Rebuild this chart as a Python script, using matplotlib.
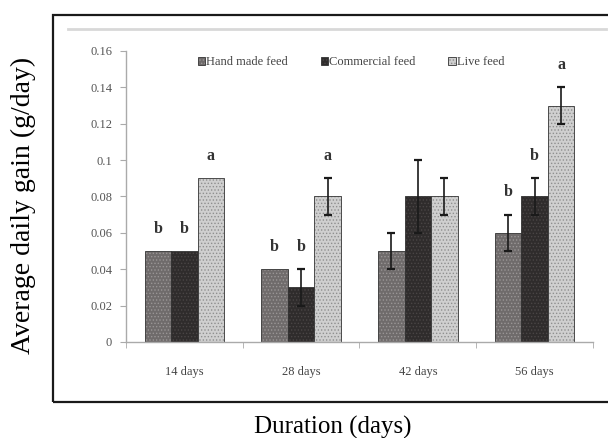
import matplotlib.pyplot as plt
import numpy as np
from matplotlib.patches import Rectangle
from matplotlib.lines import Line2D

plt.rcParams['font.family'] = ['Liberation Serif', 'DejaVu Serif']
plt.rcParams['hatch.linewidth'] = 0.6

durations = ['14 days', '28 days', '42 days', '56 days']
series = ['Hand made feed', 'Commercial feed', 'Live feed']
hand_made = [0.05, 0.04, 0.05, 0.06]
commercial = [0.05, 0.03, 0.08, 0.08]
live = [0.09, 0.08, 0.08, 0.13]
hand_err = [0.0, 0.0, 0.01, 0.01]
comm_err = [0.0, 0.01, 0.02, 0.01]
live_err = [0.0, 0.01, 0.01, 0.01]
hand_sig = ['b', 'b', '', 'b']
comm_sig = ['b', 'b', '', 'b']
live_sig = ['a', 'a', '', 'a']

values = [hand_made, commercial, live]
errors = [hand_err, comm_err, live_err]
letters = [hand_sig, comm_sig, live_sig]
faces = ['#6f6b6b', '#2f2c2c', '#cfcfcf']
hatch_cols = ['#9a9696', '#4a4646', '#8f8f8f']

fig = plt.figure(figsize=(6.08, 4.38), dpi=100)
fig.patch.set_facecolor('white')

# outer frame and light inner panel line
fig.add_artist(Rectangle((0.0872, 0.0822), 0.93, 0.8836, transform=fig.transFigure,
                         fill=False, edgecolor='#1a1a1a', linewidth=1.6))
fig.add_artist(Line2D([0.112, 0.997], [0.9338, 0.9338], transform=fig.transFigure,
                      color='#d8d8d8', linewidth=2))

ax = fig.add_axes([0.2072, 0.2192, 0.768, 0.6644])
x = np.arange(len(durations))
w = 0.227

for i in range(3):
    pos = x + (i - 1) * w
    bars = ax.bar(pos, values[i], w, color=faces[i], edgecolor='#333333',
                  linewidth=0.6, hatch='.....', label=series[i], zorder=2)
    for b in bars:
        b._hatch_color = (*plt.matplotlib.colors.to_rgb(hatch_cols[i]), 1.0)
    errs = np.array(errors[i])
    mask = errs > 0
    ax.errorbar(pos[mask], np.array(values[i])[mask], yerr=errs[mask], fmt='none',
                ecolor='#1a1a1a', elinewidth=1.2, capsize=3, capthick=1.6, zorder=3)
    for j in range(len(durations)):
        if letters[i][j]:
            ax.text(pos[j], values[i][j] + errors[i][j] + 0.008, letters[i][j],
                    ha='center', va='bottom', fontsize=11.5, fontweight='bold',
                    color='#333333')

ax.set_xlim(-0.5, 3.5)
ax.set_ylim(0, 0.16)
ax.set_yticks(np.arange(0, 0.161, 0.02))
ax.set_yticklabels(['0', '0.02', '0.04', '0.06', '0.08', '0.1', '0.12', '0.14', '0.16'])
ax.set_xticks(x)
ax.set_xticklabels(durations)
ax.set_xticks(np.arange(-0.5, 3.6, 1), minor=True)
ax.tick_params(axis='x', which='major', length=0, pad=17, labelsize=9, labelcolor='#444444')
ax.tick_params(axis='x', which='minor', length=4, color='#aaaaaa', direction='out')
ax.tick_params(axis='y', length=4, color='#aaaaaa', pad=6, labelsize=9, labelcolor='#555555')
for s in ['top', 'right']:
    ax.spines[s].set_visible(False)
for s in ['left', 'bottom']:
    ax.spines[s].set_color('#aaaaaa')
    ax.spines[s].set_linewidth(1.0)

ax.legend(loc='center', bbox_to_anchor=(0.482, 0.962), ncol=3, frameon=False,
          fontsize=9, handlelength=0.6, handleheight=0.6, handletextpad=0.1,
          columnspacing=2.6, labelcolor='#444444')

fig.text(0.039, 0.53, 'Average daily gain (g/day)', rotation=90, ha='center',
         va='center', fontsize=20)
fig.text(0.548, 0.025, 'Duration (days)', ha='center', va='center', fontsize=18)

fig.savefig('out.png', dpi=100)
